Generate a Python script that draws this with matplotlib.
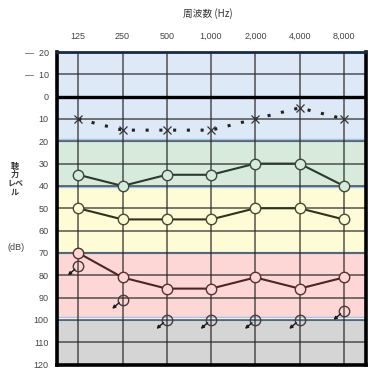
import matplotlib
matplotlib.use("Agg")
import matplotlib.pyplot as plt

plt.rcParams['font.family'] = ['Liberation Sans', 'Noto Sans CJK JP', 'DejaVu Sans']

freq_labels = ["125", "250", "500", "1,000", "2,000", "4,000", "8,000"]
y_ticks = [-20, -10, 0, 10, 20, 30, 40, 50, 60, 70, 80, 90, 100, 110, 120]
y_tick_labels = ["—  20", "—  10", "0", "10", "20", "30", "40", "50", "60", "70",
                 "80", "90", "100", "110", "120"]

x_cross = [10, 15, 15, 15, 10, 5, 10]
circ_green = [35, 40, 35, 35, 30, 30, 40]
circ_yellow = [50, 55, 55, 55, 50, 50, 55]
circ_red = [70, 81, 86, 86, 81, 86, 81]
scaleout = [76, 91, 100, 100, 100, 100, 96]

bands = [(-20, 19, '#dde9f7'), (20, 40, '#d7eadb'), (40.5, 69.5, '#fdfcd6'),
         (70, 98.5, '#fdd6d6'), (100, 120, '#d5d5d5')]

fig = plt.figure(figsize=(3.81, 3.78), dpi=100)
ax = fig.add_axes([0.1496, 0.0357, 0.8110, 0.8267])
xs = list(range(len(freq_labels)))

for lo, hi, c in bands:
    ax.axhspan(lo, hi, facecolor=c, edgecolor='#9fc5ea', linewidth=1.0, zorder=0)

for y in y_ticks:
    if y == 0:
        ax.axhline(y, color='black', linewidth=2.4, zorder=2)
    elif -20 < y < 120:
        ax.axhline(y, color='#2a2a2a', linewidth=1.1, alpha=0.8, zorder=1)
for x in xs:
    ax.axvline(x, color='#2a2a2a', linewidth=1.1, alpha=0.8, zorder=1)

ax.set_xlim(-0.48, 6.5)
ax.set_ylim(120, -20)

# dotted X line
ax.plot(xs, x_cross, color='#222222', linestyle=(0, (1, 3.5)), linewidth=2.2,
        zorder=3)
ax.plot(xs, x_cross, linestyle='none', marker='x', markersize=6,
        markeredgewidth=0.9, color='#333333', zorder=4)

ax.plot(xs, circ_green, color='#2c3a2c', linewidth=1.5, marker='o',
        markersize=7.5, markerfacecolor='#d7eadb', markeredgecolor='#3c4a3c',
        markeredgewidth=1.0, zorder=4)
ax.plot(xs, circ_yellow, color='#2e3320', linewidth=1.5, marker='o',
        markersize=7.5, markerfacecolor='#fdfcd6', markeredgecolor='#4a4a30',
        markeredgewidth=1.0, zorder=4)
ax.plot(xs, circ_red, color='#4e2424', linewidth=1.5, marker='o',
        markersize=7.5, markerfacecolor='#fdd6d6', markeredgecolor='#5a3030',
        markeredgewidth=1.0, zorder=4)

for x, v in zip(xs, scaleout):
    ax.plot([x], [v], linestyle='none', marker='o', markersize=7.5,
            markerfacecolor='none', markeredgecolor='#4a3a3a',
            markeredgewidth=1.0, zorder=4)
    ax.annotate('', xy=(x, v), xytext=(-7.5, -6.5), textcoords='offset points',
                xycoords='data', zorder=5,
                arrowprops=dict(arrowstyle='<|-', color='#1a1a1a', lw=1.0,
                                mutation_scale=4.5, shrinkA=0, shrinkB=3.2))

ax.xaxis.tick_top()
ax.set_xticks(xs)
ax.set_xticklabels(freq_labels, fontsize=6.5, color='#444444')
ax.tick_params(axis='x', length=0, pad=8)
ax.set_yticks(y_ticks)
ax.set_yticklabels(y_tick_labels, fontsize=6.5, color='#444444')
ax.tick_params(axis='y', length=0, pad=6)

for s in ['left', 'right', 'bottom']:
    ax.spines[s].set_linewidth(2.6)
    ax.spines[s].set_color('black')
ax.spines['top'].set_linewidth(2.0)
ax.spines['top'].set_color('#1a2a40')

fig.text(208 / 381, 1 - 14 / 378, "周波数 (Hz)", fontsize=7, color='#333333',
         ha='center', va='center', family=['Noto Sans CJK JP', 'DejaVu Sans'])
fig.text(15 / 381, 1 - 179 / 378, "聴\n力\nレベ\nル", fontsize=5.8,
         color='#333333', ha='center', va='center', linespacing=0.95,
         fontweight='bold', family=['Noto Sans CJK JP', 'DejaVu Sans'])
fig.text(16 / 381, 1 - 248 / 378, "(dB)", fontsize=6.5, color='#444444',
         ha='center', va='center')

fig.savefig("out.png", dpi=100)
